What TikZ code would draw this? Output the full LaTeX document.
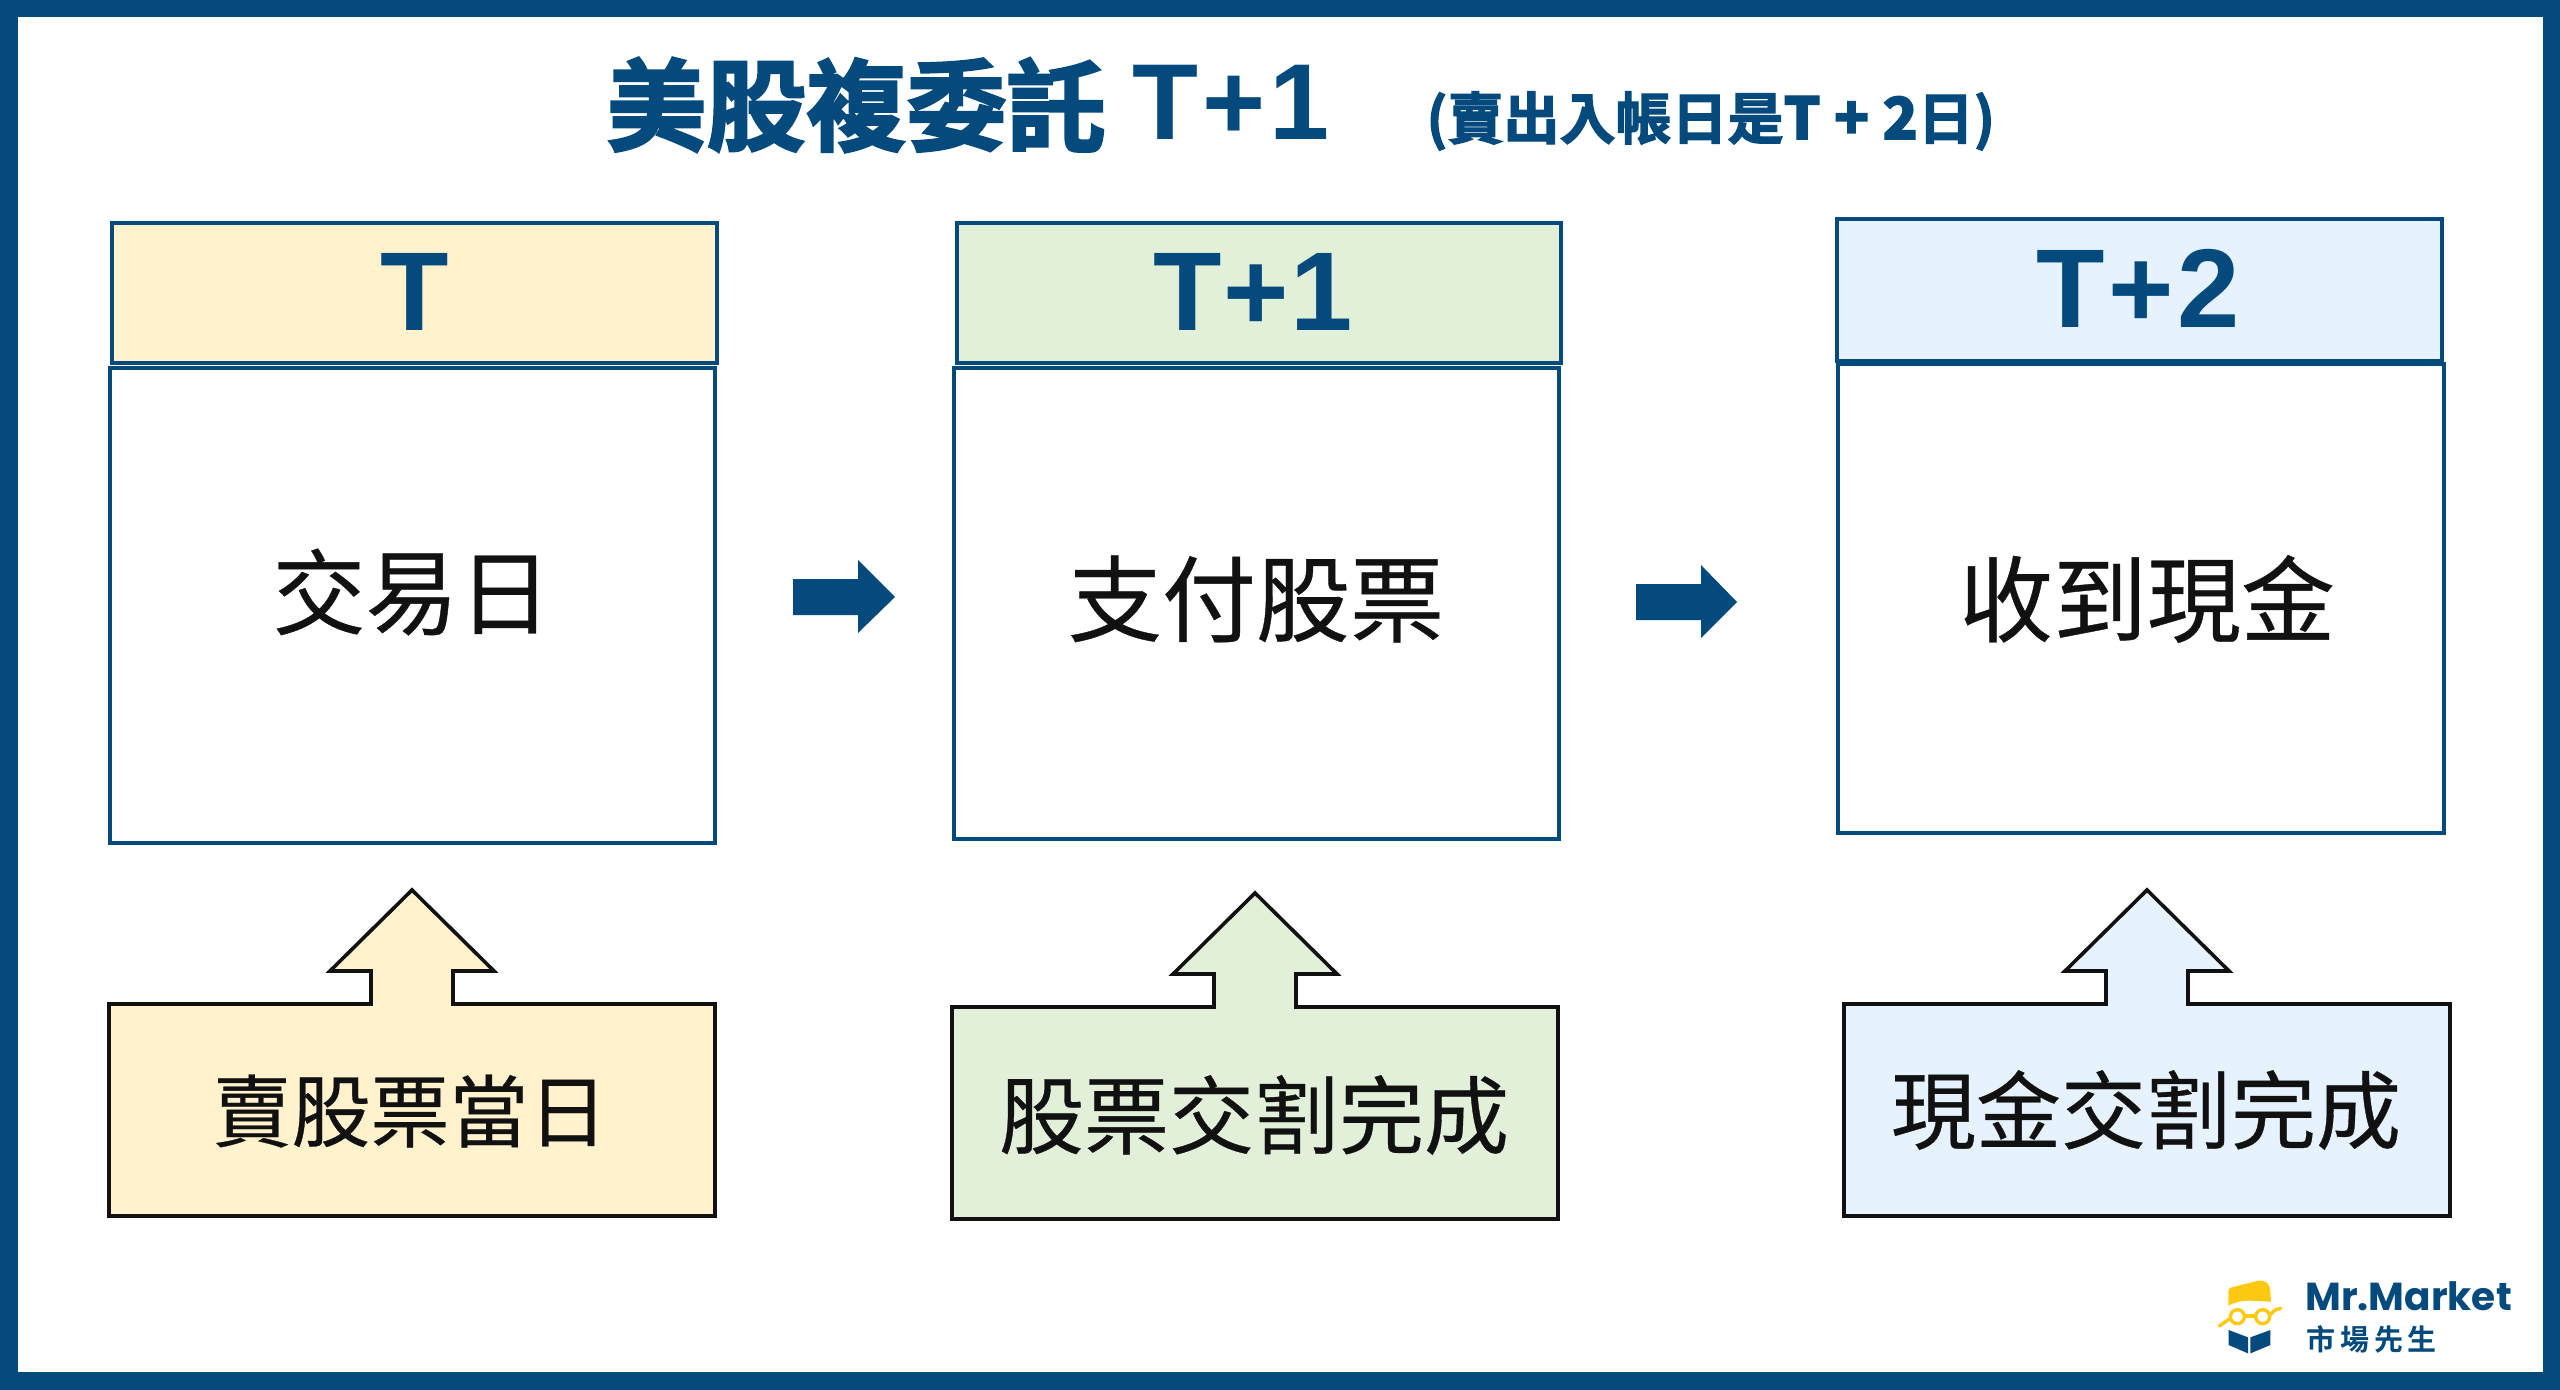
\documentclass[tikz,border=0pt]{standalone}
\usepackage{fontspec}
\setmainfont{Liberation Sans}
\newfontfamily\cjk[FakeBold=0.4]{Noto Sans CJK TC}
\newfontfamily\cjkb[FakeBold=2.2]{Noto Sans CJK TC Bold}
\newfontfamily\cjkbb{Noto Sans CJK TC Bold}
\newfontfamily\pop{Poppins}
\definecolor{navy}{HTML}{044A7C}
\definecolor{cy}{HTML}{FFF2CC}
\definecolor{cg}{HTML}{E2EFD9}
\definecolor{cb}{HTML}{E6F2FD}
\definecolor{ink}{HTML}{111111}
\definecolor{gold}{HTML}{FDC913}
\newcommand{\fs}[1]{\fontsize{#1}{#1}\selectfont}
\newcommand{\tk}{\kern0.035em}
\tikzset{
  x=0.5pt,y=-0.5pt,
  headbox/.style={draw=navy,line width=1.9pt,anchor=north west,inner sep=0pt,outer sep=0pt},
  bodybox/.style={draw=navy,line width=1.8pt,anchor=north west,fill=white,inner sep=0pt,outer sep=0pt},
  headtxt/.style={text=navy,font=\bfseries\fs{56},inner sep=0pt},
  bodytxt/.style={text=ink,font=\cjk\fs{47},inner sep=0pt},
  calltxt/.style={text=ink,font=\cjk\fs{42.5},inner sep=0pt},
  callout/.style={draw=ink,line width=1.8pt,line join=miter},
  bigarrow/.style={fill=navy,draw=none},
}
\begin{document}
\begin{tikzpicture}
\useasboundingbox (0,0) rectangle (2560,1390);
% frame
\fill[navy] (0,0) rectangle (2560,1390);
\fill[white] (18,17) rectangle (2543,1372);
% title
\node[text=navy,inner sep=0pt,anchor=west,font=\cjkb\fs{50}] (title) at (606,105) {美股複委託};
\node[text=navy,inner sep=0pt,anchor=west,font=\bfseries\fs{54}] (titleb) at (1132,102) {T\tk+\tk 1};
\node[text=navy,inner sep=0pt,anchor=west,font=\cjkb\fs{28}] (sub) at (1426,121) {(賣出入帳日是{\bfseries\fs{29}T + 2}日)};
% bodies
\node[bodybox,minimum width=302.5pt,minimum height=237.5pt] (b1) at (110,368) {};
\node[bodybox,minimum width=302.5pt,minimum height=235.5pt] (b2) at (954,368) {};
\node[bodybox,minimum width=303pt,minimum height=234.5pt] (b3) at (1838,364) {};
% headers
\node[headbox,fill=cy,minimum width=302.5pt,minimum height=70pt] (h1) at (112,223) {};
\node[headbox,fill=cg,minimum width=302pt,minimum height=70pt] (h2) at (957,223) {};
\node[headbox,fill=cb,minimum width=302.5pt,minimum height=71pt] (h3) at (1837,219) {};
\node[headtxt] (h1t) at (415,292) {T};
\node[headtxt] (h2t) at (1253,292) {T\kern0.015em+\kern0.015em 1};
\node[headtxt] (h3t) at (2138,288) {T\tk+\tk 2};
\node[bodytxt,font=\cjk\fs{46.5}] (b1t) at (412,592) {交易日};
\node[bodytxt] (b2t) at (1256,599) {支付股票};
\node[bodytxt] (b3t) at (2147,599) {收到現金};
% arrows between
\fill[bigarrow] (793,579) -- (858,579) -- (858,560) -- (895,597) -- (858,633) -- (858,615) -- (793,615) -- cycle;
\fill[bigarrow] (1636,584) -- (1701,584) -- (1701,565) -- (1737,602) -- (1701,638) -- (1701,620) -- (1636,620) -- cycle;
% callouts
\draw[callout,fill=cy] (109,1004) -- (371,1004) -- (371,971) -- (330,971) -- (412,890) -- (494,971) -- (453,971) -- (453,1004) -- (715,1004) -- (715,1216) -- (109,1216) -- cycle;
\draw[callout,fill=cg] (952,1007) -- (1214,1007) -- (1214,974) -- (1173,974) -- (1255,893) -- (1337,974) -- (1296,974) -- (1296,1007) -- (1558,1007) -- (1558,1219) -- (952,1219) -- cycle;
\draw[callout,fill=cb] (1844,1004) -- (2106,1004) -- (2106,971) -- (2065,971) -- (2147,890) -- (2229,971) -- (2188,971) -- (2188,1004) -- (2450,1004) -- (2450,1216) -- (1844,1216) -- cycle;
\node[calltxt,font=\cjk\fs{39.5}] (c1t) at (410,1111) {賣股票當日};
\node[calltxt] (c2t) at (1254,1115) {股票交割完成};
\node[calltxt] (c3t) at (2146,1110) {現金交割完成};
% logo
\begin{scope}[shift={(2160,1250)},x=0.1667pt,y=-0.1667pt]
\fill[gold] (205,167) -- (205,125) .. controls (205,115) and (212,112) .. (222,110) -- (295,92) .. controls (318,90) and (330,100) .. (331,125) -- (333,155) -- (270,152) .. controls (245,152) and (225,156) .. cycle;
\draw[gold,line width=1.7pt] (232,200) circle (21);
\draw[gold,line width=1.7pt] (308,200) circle (21);
\draw[gold,line width=1.7pt] (253,198) -- (287,198);
\draw[gold,line width=1.7pt,line cap=round] (211,205) -- (178,228);
\draw[gold,line width=1.7pt,line cap=round] (329,195) -- (345,180) -- (362,175);
\fill[navy] (206,240) -- (264,262) -- (264,310) -- (206,285) -- cycle;
\fill[navy] (271,262) -- (331,240) -- (331,285) -- (271,310) -- cycle;
\end{scope}
\node[text=navy,inner sep=0pt,anchor=west,font=\pop\bfseries\fs{19.5}] (lg1) at (2305,1296) {Mr.Market};
\node[text=navy,inner sep=0pt,anchor=west,font=\cjkbb\fs{14.5}] (lg2) at (2306,1339) {市\,場\,先\,生};
\end{tikzpicture}
\end{document}
